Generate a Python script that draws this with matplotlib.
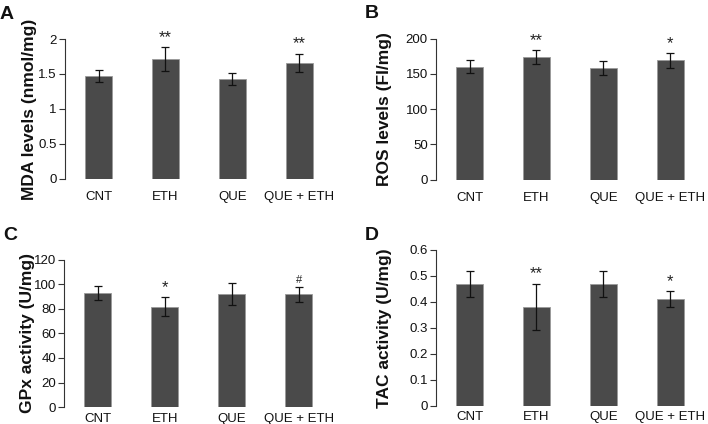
import matplotlib.pyplot as plt
from matplotlib.transforms import blended_transform_factory

# ====================================
# DATA
# ====================================

groups = ["CNT", "ETH", "QUE", "QUE + ETH"]

mda_mean = [1.47, 1.71, 1.43, 1.66]
mda_err = [0.09, 0.17, 0.09, 0.13]
mda_sig = ["", "**", "", "**"]

ros_mean = [160, 174, 158, 169]
ros_err = [9, 10, 10, 10]
ros_sig = ["", "**", "", "*"]

gpx_mean = [93, 82, 92, 92]
gpx_err = [5.5, 7.5, 9, 6]
gpx_sig = ["", "*", "", "#"]

tac_mean = [0.47, 0.38, 0.47, 0.41]
tac_err = [0.05, 0.09, 0.05, 0.03]
tac_sig = ["", "**", "", "*"]

panels = [
    ("A", "MDA levels (nmol/mg)", mda_mean, mda_err, mda_sig,
     [0, 0.5, 1, 1.5, 2], ["0", "0.5", "1", "1.5", "2"]),
    ("B", "ROS levels (FI/mg)", ros_mean, ros_err, ros_sig,
     [0, 50, 100, 150, 200], ["0", "50", "100", "150", "200"]),
    ("C", "GPx activity (U/mg)", gpx_mean, gpx_err, gpx_sig,
     [0, 20, 40, 60, 80, 100, 120],
     ["0", "20", "40", "60", "80", "100", "120"]),
    ("D", "TAC activity (U/mg)", tac_mean, tac_err, tac_sig,
     [0, 0.1, 0.2, 0.3, 0.4, 0.5, 0.6],
     ["0", "0.1", "0.2", "0.3", "0.4", "0.5", "0.6"]),
]

# axes rectangles (figure fraction) and panel letter spots
rects = [
    [0.092, 0.578, 0.378, 0.330],
    [0.616, 0.576, 0.378, 0.333],
    [0.091, 0.040, 0.378, 0.347],
    [0.616, 0.043, 0.378, 0.368],
]
letter_pos = [(0.0, 0.985), (0.515, 0.988), (0.004, 0.465), (0.515, 0.465)]
ylabel_x = [0.052, 0.554, 0.050, 0.554]
xpad = [9, 9, 4, 4]

plt.rcParams["font.family"] = ["Liberation Sans", "DejaVu Sans"]

fig = plt.figure(figsize=(7.08, 4.24), dpi=100)

for i, (letter, ylab, mean, err, sig, ticks, tlabels) in enumerate(panels):

    ax = fig.add_axes(rects[i])

    x = list(range(len(groups)))

    ax.bar(
        x,
        mean,
        width=0.4,
        color="#4a4a4a",
        edgecolor="#9a9a9a",
        linewidth=0.6,
        yerr=err,
        error_kw=dict(ecolor="#111111", elinewidth=0.9,
                      capsize=3, capthick=0.9),
    )

    for xi, m, e, s in zip(x, mean, err, sig):
        if s:
            ax.annotate(
                s,
                (xi, m + e),
                xytext=(0, 1.5),
                textcoords="offset points",
                ha="center",
                va="bottom",
                fontsize=12 if s != "#" else 8,
                color="#222222",
            )

    ax.set_xlim(-0.5, 3.5)
    ax.set_ylim(0, ticks[-1])
    ax.set_yticks(ticks)
    ax.set_yticklabels(tlabels)
    ax.set_xticks(x)
    ax.set_xticklabels(groups)

    for side in ["top", "right", "bottom"]:
        ax.spines[side].set_visible(False)
    ax.spines["left"].set_color("#333333")
    ax.spines["left"].set_linewidth(0.8)

    ax.tick_params(axis="x", length=0, pad=xpad[i],
                   labelsize=9.5, labelcolor="#111111")
    ax.tick_params(axis="y", length=4, width=0.8, color="#333333",
                   pad=2, labelsize=9.5, labelcolor="#111111")

    ax.set_ylabel(ylab, fontsize=12.5, fontweight="bold", color="#111111")
    ax.yaxis.set_label_coords(
        ylabel_x[i], 0.5,
        transform=blended_transform_factory(fig.transFigure, ax.transAxes),
    )

    fig.text(letter_pos[i][0], letter_pos[i][1], letter,
             fontsize=14, fontweight="bold", va="top", color="#111111")

plt.savefig("out.png", dpi=100)
